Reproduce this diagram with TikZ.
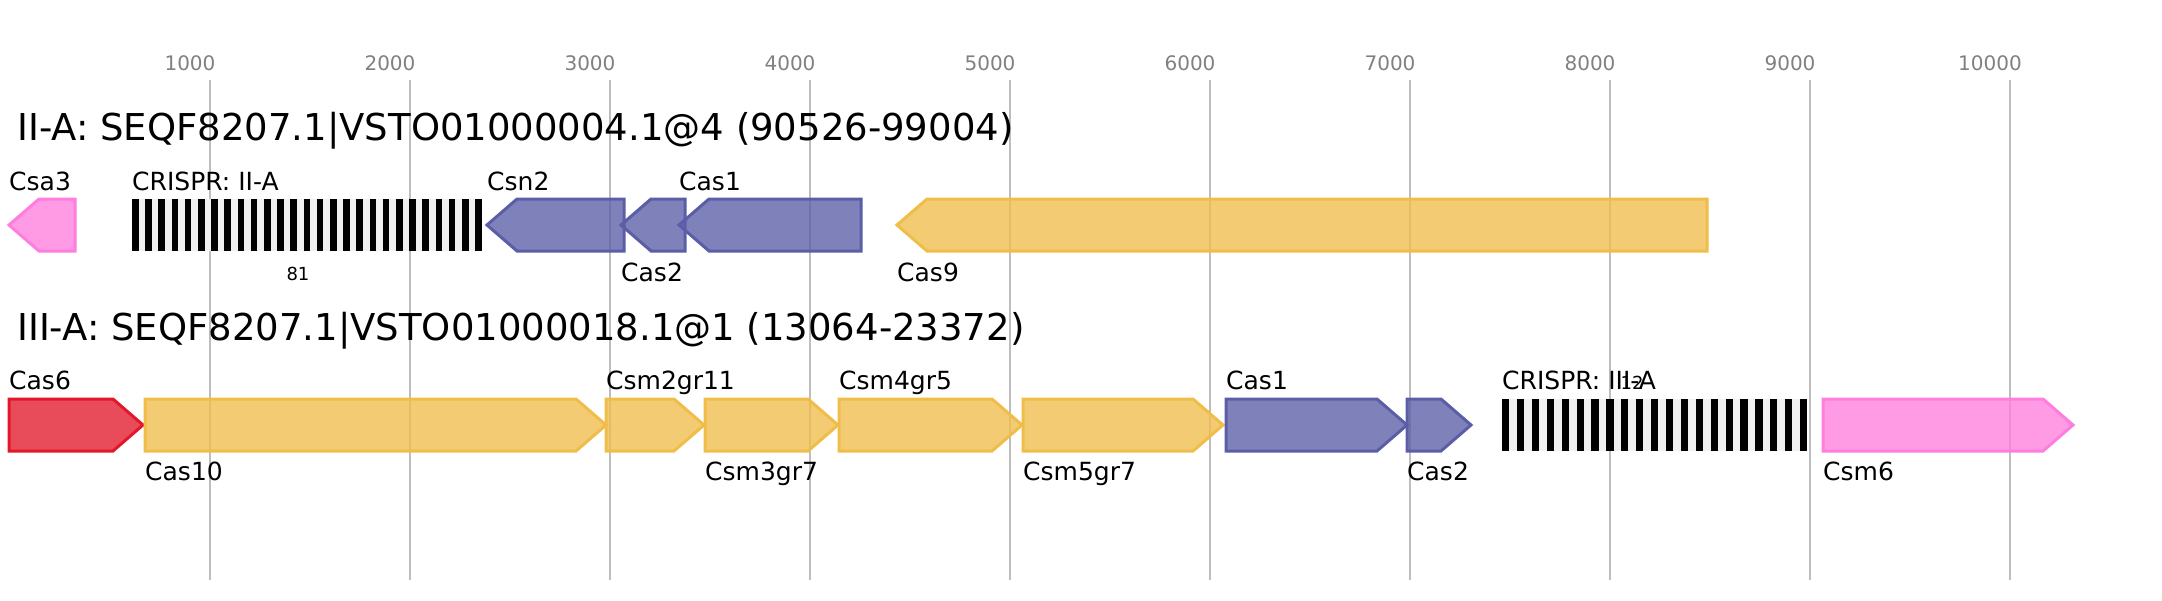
\documentclass[tikz,border=0pt]{standalone}
\usepackage{fontspec}
\setmainfont{DejaVu Sans}
\definecolor{casblue}{RGB}{91,94,166}
\definecolor{casgold}{RGB}{240,189,74}
\definecolor{caspink}{RGB}{255,125,222}
\definecolor{casred}{RGB}{226,24,42}
\definecolor{gridgray}{RGB}{190,190,190}
\definecolor{ticktext}{RGB}{128,128,128}
\definecolor{spacer}{RGB}{240,240,240}

\begin{document}
\begin{tikzpicture}
[x=1pt,y=-1pt,
gene/.style={draw=#1,fill=#1,fill opacity=0.78,line width=3pt,line join=miter},
gridline/.style={draw=gridgray,line width=1.5pt},
tick/.style={anchor=base,inner sep=0pt,text=ticktext,font=\fontsize{20}{24}\selectfont},
title/.style={anchor=base west,inner sep=0pt,font=\fontsize{37}{44}\selectfont},
lab/.style={anchor=base west,inner sep=0pt,font=\fontsize{25}{30}\selectfont},
count/.style={anchor=base,inner sep=0pt,font=\fontsize{18}{22}\selectfont}]
\useasboundingbox (0,0) rectangle (2162,600);
% scale
\foreach \k in {1,...,10} {
  \draw[gridline] ({10+200*\k},80) -- ({10+200*\k},580);
  \node[tick] (tick\k) at ({10+200*\k-20},70) {\k000};
}
% II-A locus
\node[title] (locA) at (17,140) {II-A: SEQF8207.1|VSTO01000004.1@4 (90526-99004)};
\foreach \a/\b/\c in {9/75/caspink,487/624/casblue,621/685/casblue,679/861/casblue,897/1707/casgold}
  \draw[gene=\c] (\b,199) -- ({\a+30},199) -- (\a,225) -- ({\a+30},251) -- (\b,251) -- cycle;
\fill[spacer] (132,199) rectangle (482,251);
\foreach \i in {0,...,26}
  \fill[black] ({132+\i*13.2},199) rectangle +(6.5,52);
\node[lab] (csa3) at (9,190) {Csa3};
\node[lab] (crA) at (132,190) {CRISPR: II-A};
\node[count] (nA) at (298,280) {81};
\node[lab] (csn2) at (487,190) {Csn2};
\node[lab] (cas2A) at (621,281) {Cas2};
\node[lab] (cas1A) at (679,190) {Cas1};
\node[lab] (cas9) at (897,281) {Cas9};
% III-A locus
\node[title] (locB) at (17,340) {III-A: SEQF8207.1|VSTO01000018.1@1 (13064-23372)};
\foreach \a/\b/\c in {9/143/casred,145/606/casgold,606/704/casgold,705/838/casgold,839/1022/casgold,1023/1223/casgold,1226/1407/casblue,1407/1471/casblue,1823/2073/caspink}
  \draw[gene=\c] (\a,399) -- ({\b-30},399) -- (\b,425) -- ({\b-30},451) -- (\a,451) -- cycle;
\fill[spacer] (1502,399) rectangle (1807,451);
\foreach \i in {0,...,20}
  \fill[black] ({1502+\i*14.9},399) rectangle +(7.2,52);
\node[lab] (cas6) at (9,389) {Cas6};
\node[lab] (cas10) at (145,480) {Cas10};
\node[lab] (csm2) at (606,389) {Csm2gr11};
\node[lab] (csm3) at (705,480) {Csm3gr7};
\node[lab] (csm4) at (839,389) {Csm4gr5};
\node[lab] (csm5) at (1023,480) {Csm5gr7};
\node[lab] (cas1B) at (1226,389) {Cas1};
\node[lab] (cas2B) at (1407,480) {Cas2};
\node[lab] (crB) at (1502,389) {CRISPR: III-A};
\node[count] (nB) at (1632,389) {12};
\node[lab] (csm6) at (1823,480) {Csm6};
\end{tikzpicture}
\end{document}
